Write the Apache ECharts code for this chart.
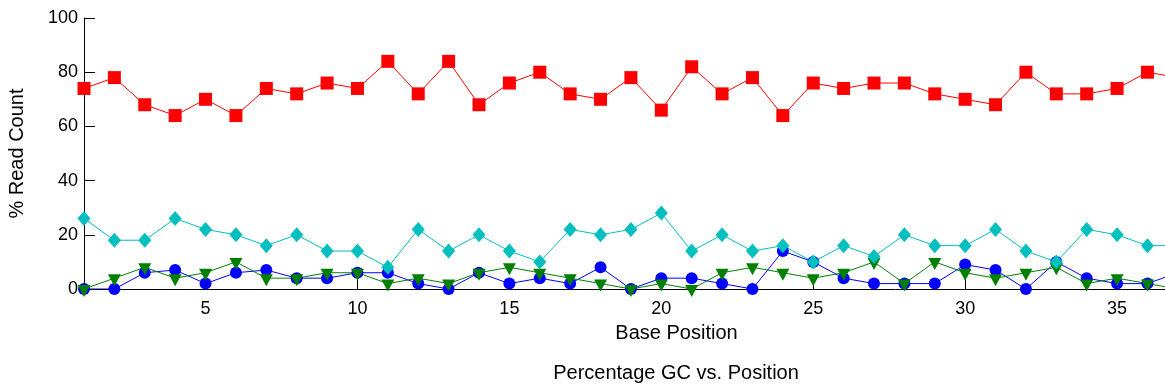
<!DOCTYPE html>
<html>
<head>
<meta charset="utf-8">
<title>Percentage GC vs. Position</title>
<script src="https://cdn.jsdelivr.net/npm/echarts@6/dist/echarts.min.js"></script>
<style>
  html, body { margin: 0; padding: 0; background: #fff; }
  #chart { width: 1165px; height: 389px; }
</style>
</head>
<body>
<div id="chart"></div>
<script>
// Base positions along the read
const positions = [1, 2, 3, 4, 5, 6, 7, 8, 9, 10, 11, 12, 13, 14, 15, 16, 17, 18, 19,
  20, 21, 22, 23, 24, 25, 26, 27, 28, 29, 30, 31, 32, 33, 34, 35, 36, 37];

// % read count per position, one list per series
const redSquares = [74, 78, 68, 64, 70, 64, 74, 72, 76, 74, 84, 72, 84, 68, 76, 80, 72, 70, 78,
  66, 82, 72, 78, 64, 76, 74, 76, 76, 72, 70, 68, 80, 72, 72, 74, 80, 78];
const cyanDiamonds = [26, 18, 18, 26, 22, 20, 16, 20, 14, 14, 8, 22, 14, 20, 14, 10, 22, 20, 22,
  28, 14, 20, 14, 16, 10, 16, 12, 20, 16, 16, 22, 14, 10, 22, 20, 16, 16];
const greenTriangles = [0, 4, 8, 4, 6, 10, 4, 4, 6, 6, 2, 4, 2, 6, 8, 6, 4, 2, 0,
  2, 0, 6, 8, 6, 4, 6, 10, 2, 10, 6, 4, 6, 8, 2, 4, 2, 0];
const blueCircles = [0, 0, 6, 7, 2, 6, 7, 4, 4, 6, 6, 2, 0, 6, 2, 4, 2, 8, 0,
  4, 4, 2, 0, 14, 10, 4, 2, 2, 2, 9, 7, 0, 10, 4, 2, 2, 6];

// Axis ticks
const xTicks = [5, 10, 15, 20, 25, 30, 35, 40];
const yTicks = [0, 20, 40, 60, 80, 100];

const FONT = '"Liberation Sans", Arial, Helvetica, sans-serif';
const pairs = (ys) => positions.map((x, i) => [x, ys[i]]);

function lineSeries(name, ys, color, symbol, size, offset) {
  return {
    name: name,
    type: 'line',
    data: pairs(ys),
    symbol: symbol,
    symbolSize: size,
    symbolOffset: offset || [0, 0],
    symbolKeepAspect: false,
    showAllSymbol: true,
    clip: true,
    lineStyle: { color: color, width: 1 },
    itemStyle: { color: color, borderWidth: 0 },
    emphasis: { disabled: true }
  };
}

const chart = echarts.init(document.getElementById('chart'), null, { renderer: 'canvas' });
chart.setOption({
  animation: false,
  backgroundColor: '#ffffff',
  title: {
    text: 'Percentage GC vs. Position',
    left: 676,
    top: 373,
    textAlign: 'center',
    textVerticalAlign: 'middle',
    padding: 0,
    textStyle: { fontFamily: FONT, fontSize: 20, fontWeight: 'normal', color: '#000' }
  },
  // the plot runs on past the right edge of the canvas
  grid: { left: 84, top: 18, bottom: 100, right: -104, containLabel: false, outerBoundsMode: 'none' },
  xAxis: {
    type: 'value',
    min: 1,
    max: 40,
    name: 'Base Position',
    nameLocation: 'middle',
    nameGap: 34,
    nameTextStyle: { fontFamily: FONT, fontSize: 20, color: '#000' },
    axisLine: { show: true, lineStyle: { color: '#000', width: 1 } },
    axisTick: { show: true, inside: true, length: 11, customValues: xTicks, lineStyle: { color: '#000' } },
    axisLabel: { customValues: xTicks, margin: 11, fontFamily: FONT, fontSize: 18, color: '#000' },
    splitLine: { show: false }
  },
  yAxis: {
    type: 'value',
    min: 0,
    max: 100,
    interval: 20,
    name: '% Read Count',
    nameLocation: 'middle',
    nameRotate: 90,
    nameGap: 57,
    nameTextStyle: { fontFamily: FONT, fontSize: 20, color: '#000' },
    axisLine: { show: true, lineStyle: { color: '#000', width: 1 } },
    axisTick: { show: true, inside: true, length: 11, customValues: yTicks, lineStyle: { color: '#000' } },
    axisLabel: { customValues: yTicks, margin: 6, fontFamily: FONT, fontSize: 18, color: '#000' },
    splitLine: { show: false }
  },
  series: [
    lineSeries('blue', blueCircles, '#0000ff', 'circle', 12),
    lineSeries('green', greenTriangles, '#008000', 'path://M0,0 L2,0 L1,1.8 Z', [13, 12], [0, 2]),
    lineSeries('cyan', cyanDiamonds, '#00bfbf', 'diamond', [13, 15]),
    lineSeries('red', redSquares, '#ff0000', 'rect', 13)
  ]
});
</script>
</body>
</html>
